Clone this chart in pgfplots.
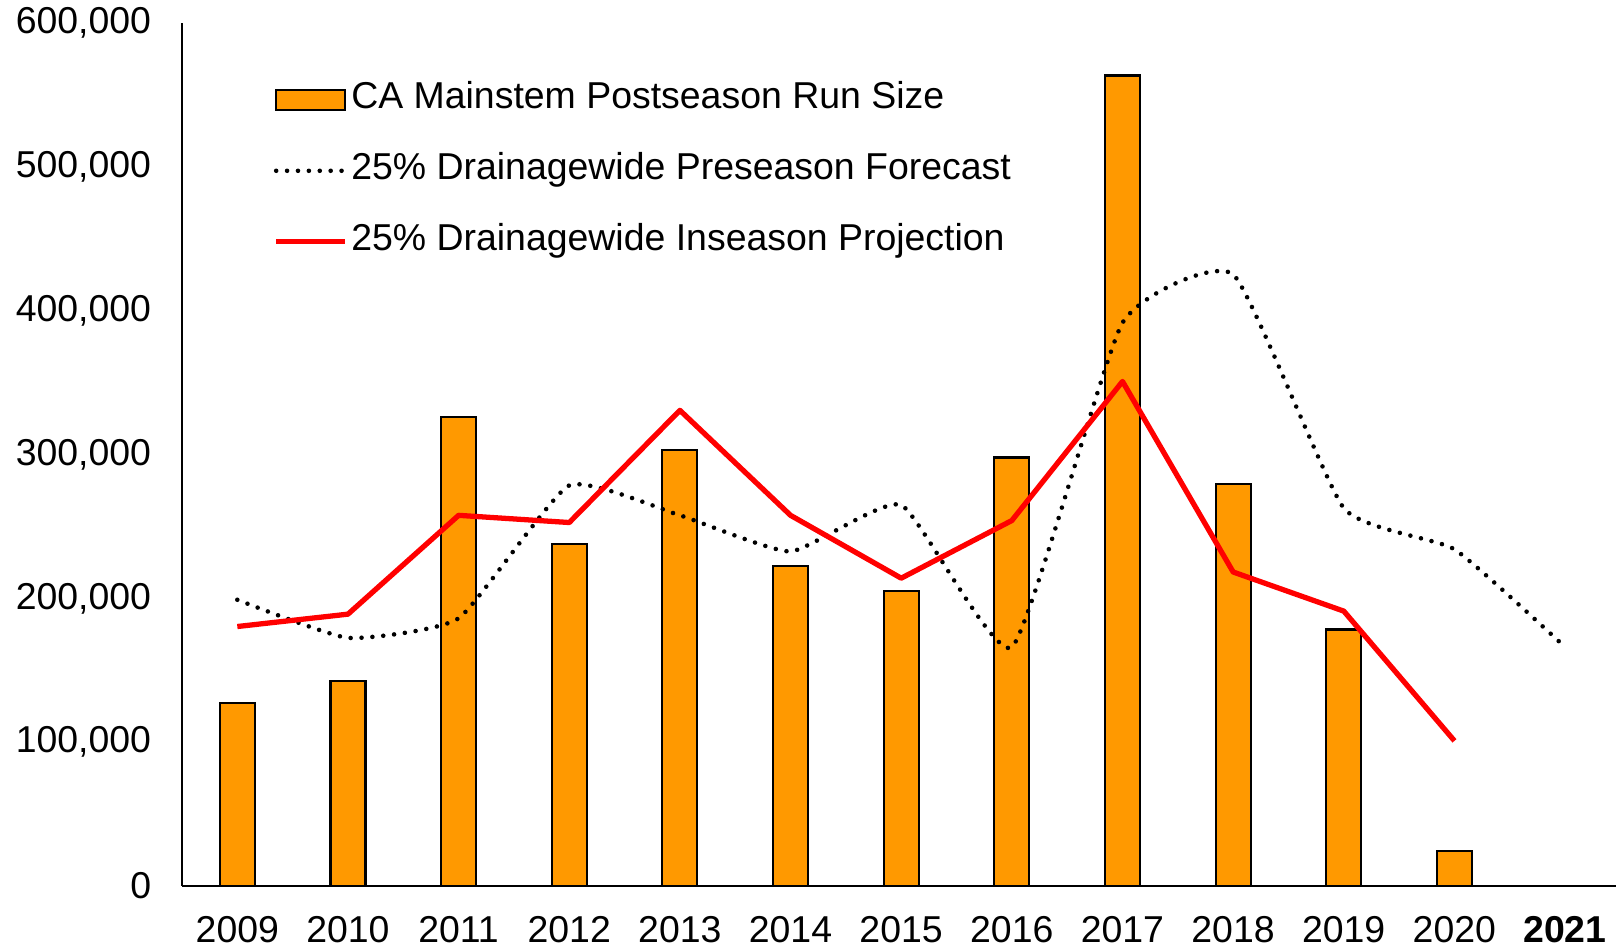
\documentclass[border=0pt]{standalone}
\usepackage{fontspec}
\setmainfont{Liberation Sans}
\usepackage{pgfplots}
\pgfplotsset{compat=1.18}
\definecolor{runorange}{RGB}{255,153,0}
\newcommand{\chartfont}{\fontsize{10.65}{12.8}\selectfont}
\pgfplotsset{
    barleg/.style={legend image code/.code={\draw[##1] (0cm,-0.1cm) rectangle (0.69cm,0.1cm);}},
    lineleg/.style={legend image code/.code={\draw[##1] (0cm,0cm) -- (0.69cm,0cm);}},
}

\begin{document}
\begin{tikzpicture}
\begin{axis}[
    width=14.34cm, height=8.63cm,
    scale only axis,
    xmin=2008.5, xmax=2021.46,
    ymin=0, ymax=600000,
    axis x line*=bottom,
    axis y line*=left,
    axis line style={line width=0.6pt},
    xtick={2009,...,2021},
    xticklabels={2009,2010,2011,2012,2013,2014,2015,2016,2017,2018,2019,2020,\textbf{2021}},
    ytick={0,100000,200000,300000,400000,500000,600000},
    yticklabels={0,{100,000},{200,000},{300,000},{400,000},{500,000},{600,000}},
    scaled y ticks=false,
    major tick length=0pt,
    tick label style={font=\chartfont, inner sep=0pt},
    xticklabel style={yshift=-8.5pt},
    yticklabel style={xshift=-8.6pt},
    legend cell align=left,
    legend style={at={(0.056,0.944)}, anchor=north west, draw=none, fill=none,
        font=\chartfont, row sep=8.1pt,
        nodes={inner sep=1pt, text height=0.75em, text depth=0.25em}},
]
\addplot[ybar, bar width=0.35cm, fill=runorange, draw=black, line width=0.6pt, barleg]
coordinates {
(2009,127400) (2010,142500) (2011,325800) (2012,237700) (2013,302900)
(2014,222700) (2015,204800) (2016,297900) (2017,563500) (2018,279200)
(2019,178300) (2020,24300)
};
\addlegendentry{CA Mainstem Postseason Run Size}

\addplot[black, line width=1.3pt, line cap=round, dash pattern=on 0pt off 3.1pt,
    smooth, tension=0.28, lineleg]
coordinates {
(2009,199000) (2010,172500) (2011,186100) (2012,278500) (2013,257700)
(2014,232600) (2015,264900) (2016,166100) (2017,391600) (2018,425200)
(2019,262700) (2020,234100) (2021,166100)
};
\addlegendentry{25\% Drainagewide Preseason Forecast}

\addplot[red, line width=1.5pt, line join=round, lineleg]
coordinates {
(2009,180400) (2010,189000) (2011,257700) (2012,252700) (2013,330700)
(2014,257700) (2015,214000) (2016,254100) (2017,350800) (2018,218300)
(2019,191100) (2020,100900)
};
\addlegendentry{25\% Drainagewide Inseason Projection}
\end{axis}
\pgfresetboundingbox
\path ([xshift=-1.82cm,yshift=-0.61cm]current axis.south west) rectangle ([yshift=0.23cm]current axis.north east);
\end{tikzpicture}
\end{document}
